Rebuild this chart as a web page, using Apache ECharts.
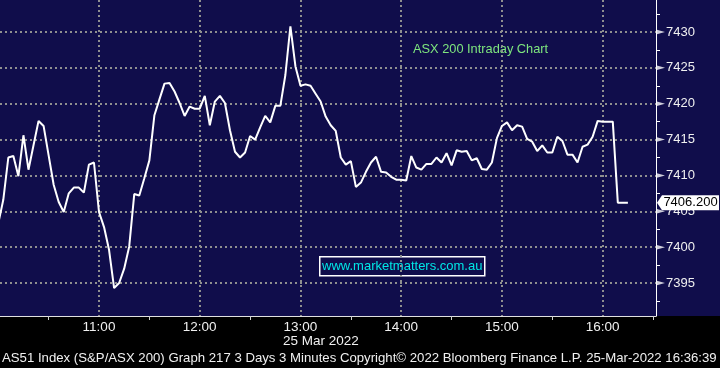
<!DOCTYPE html>
<html><head><meta charset="utf-8">
<script src="https://cdn.jsdelivr.net/npm/echarts@6/dist/echarts.min.js"></script>
<style>html,body{margin:0;padding:0;background:#000;}#chart{width:720px;height:368px;}</style>
</head><body><div id="chart"></div>
<script>
// ---- data ----
const startHour = 10;        // first bar 10:00
const stepMinutes = 3;       // 3-minute bars
const prices = [
  7403.3, 7406.6, 7412.5, 7412.7, 7409.9, 7415.6, 7410.8, 7414.2, 7417.6, 7416.9,
  7412.8, 7408.7, 7406.3, 7404.9, 7407.5, 7408.3, 7408.3, 7407.6, 7411.5, 7411.8,
  7404.9, 7402.8, 7399.6, 7394.3, 7395.0, 7397.0, 7400.1, 7407.4, 7407.2, 7409.6,
  7412.1, 7418.4, 7420.6, 7422.8, 7422.9, 7421.7, 7420.1, 7418.3, 7419.6, 7419.3,
  7419.3, 7421.1, 7417.0, 7420.3, 7421.1, 7420.1, 7416.3, 7413.3, 7412.5, 7413.2,
  7415.5, 7415.0, 7416.7, 7418.3, 7417.4, 7419.7, 7419.7, 7424.0, 7430.8, 7425.2,
  7422.5, 7422.7, 7422.5, 7421.4, 7420.3, 7418.2, 7417.0, 7416.2, 7412.5, 7411.5,
  7412.0, 7408.4, 7409.0, 7410.5, 7411.8, 7412.6, 7410.5, 7410.4, 7409.8, 7409.4,
  7409.4, 7409.3, 7412.7, 7411.1, 7410.8, 7411.6, 7411.6, 7412.5, 7411.8, 7413.1,
  7411.4, 7413.5, 7413.3, 7413.4, 7412.1, 7412.4, 7410.9, 7410.8, 7411.8, 7415.2,
  7416.9, 7417.4, 7416.3, 7417.0, 7416.8, 7415.1, 7414.7, 7413.4, 7414.2, 7413.2,
  7413.2, 7415.4, 7414.8, 7412.9, 7412.9, 7411.8, 7414.0, 7414.3, 7415.4, 7417.6,
  7417.5, 7417.5, 7417.5, 7406.2, 7406.2, 7406.2
];
const yTicks = [7395, 7400, 7405, 7410, 7415, 7420, 7425, 7430];
const lastPrice = 7406.2;
const xMin = 10.0173, xMax = 16.529;   // visible time window (hours)
const yMin = 7390.40, yMax = 7434.46;  // visible price window
const titleText = 'ASX 200 Intraday Chart';
const dateText = '25 Mar 2022';
const watermark = 'www.marketmatters.com.au';
const footer = 'AS51 Index (S&P/ASX 200) Graph 217 3 Days 3 Minutes Copyright\u00A9 2022 Bloomberg Finance L.P. 25-Mar-2022 16:36:39';

// ---- chart ----
const NAVY = '#100d4b';
const FONT = 'Liberation Sans';
const seriesData = prices.map((v, i) => [startHour + i * stepMinutes / 60, v]);

const chart = echarts.init(document.getElementById('chart'), null, {renderer: 'canvas'});
chart.setOption({
  animation: false,
  backgroundColor: new echarts.graphic.LinearGradient(0, 0, 0, 1, [
    {offset: 0, color: NAVY}, {offset: 316 / 368, color: NAVY},
    {offset: 316 / 368, color: '#000'}, {offset: 1, color: '#000'}
  ]),
  grid: {left: 0, right: 64, top: 0, bottom: 52, containLabel: false},
  xAxis: {
    type: 'value', min: xMin, max: xMax, splitNumber: 6,
    axisLine: {show: true, lineStyle: {color: '#e0e0e0', width: 1}},
    axisTick: {show: false},
    minorTick: {show: true, splitNumber: 2, length: 4, lineStyle: {color: '#d0d0d0', width: 1}},
    axisLabel: {
      show: true, showMinLabel: false, showMaxLabel: false, margin: 4,
      color: '#f0f0f0', fontFamily: FONT, fontSize: 13.5,
      formatter: v => Math.round(v) + ':00'
    },
    splitLine: {show: true, showMinLine: false, showMaxLine: false,
      lineStyle: {color: '#8f8f8f', width: 2, type: [2, 3]}}
  },
  yAxis: {
    type: 'value', position: 'right', min: yMin, max: yMax, splitNumber: 9,
    axisLine: {show: true, lineStyle: {color: '#ffffff', width: 1}},
    axisTick: {show: false},
    minorTick: {show: true, splitNumber: 2, length: 4, lineStyle: {color: '#ffffff', width: 1}},
    axisLabel: {
      show: true, showMinLabel: false, showMaxLabel: false, margin: 10,
      color: '#f0f0f0', fontFamily: FONT, fontSize: 13,
      formatter: v => String(Math.round(v))
    },
    splitLine: {show: true, showMinLine: false, showMaxLine: false,
      lineStyle: {color: '#8f8f8f', width: 2, type: [2, 3]}}
  },
  series: [
    {
      type: 'line', data: seriesData, showSymbol: false, clip: true, z: 3,
      lineStyle: {color: '#ffffff', width: 2},
      markPoint: {
        silent: true,
        symbol: 'path://M0,7.5 L5,0 L62,0 L62,15 L5,15 Z',
        symbolKeepAspect: false,
        symbolSize: [62, 15],
        symbolOffset: [32, 0],
        itemStyle: {color: '#ffffff'},
        label: {show: true, position: 'inside', offset: [2.5, 0], color: '#000',
          fontFamily: FONT, fontSize: 13, formatter: () => lastPrice.toFixed(3)},
        data: [{coord: [xMax, lastPrice]}]
      }
    },
    {
      type: 'scatter', data: yTicks.map(v => [xMax, v]), clip: false, silent: true, z: 4,
      symbol: 'triangle', symbolSize: [5, 9], symbolRotate: -90, symbolOffset: [4.5, 0],
      itemStyle: {color: '#ffffff'}
    }
  ],
  graphic: [
    {type: 'text', left: 413, top: 43, silent: true,
      style: {text: titleText, fill: '#7ee67e', font: '12.8px "Liberation Sans"'}},
    {type: 'group', left: 319, top: 256, silent: true, children: [
      {type: 'rect', shape: {x: 0, y: 0, width: 165, height: 19},
        style: {fill: NAVY, stroke: '#ffffff', lineWidth: 1.5}},
      {type: 'text', x: 82.5, y: 10,
        style: {text: watermark, fill: '#00e6e6', font: '13px "Liberation Sans"', align: 'center', verticalAlign: 'middle'}}
    ]},
    {type: 'text', left: 283, top: 334, silent: true,
      style: {text: dateText, fill: '#f0f0f0', font: '13.5px "Liberation Sans"'}},
    {type: 'text', left: 2, top: 352, silent: true,
      style: {text: footer, fill: '#f0f0f0', font: '13.2px "Liberation Sans"'}}
  ]
});
</script></body></html>
